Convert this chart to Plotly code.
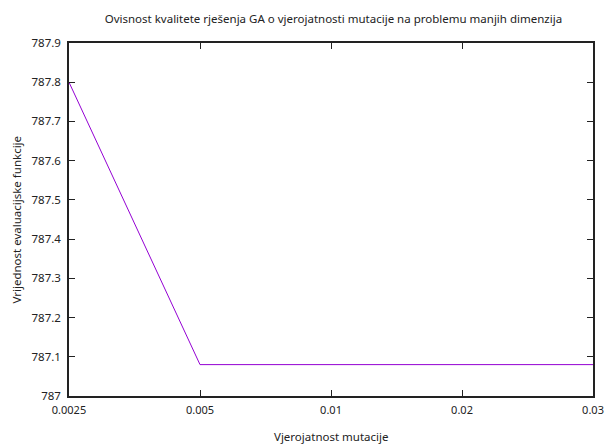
import plotly.graph_objects as go

# Mutation probabilities tested (shown as evenly spaced categories)
mutation_labels = ["0.0025", "0.005", "0.01", "0.02", "0.03"]
# Best evaluation-function value reached for each probability
fitness_values = [787.8, 787.08, 787.08, 787.08, 787.08]

y_ticks = [787.0, 787.1, 787.2, 787.3, 787.4, 787.5, 787.6, 787.7, 787.8, 787.9]
y_tick_text = ["787", "787.1", "787.2", "787.3", "787.4", "787.5", "787.6", "787.7", "787.8", "787.9"]

positions = list(range(len(mutation_labels)))

fig = go.Figure()
fig.add_trace(go.Scatter(
    x=positions,
    y=fitness_values,
    mode="lines",
    line=dict(color="#9400D3", width=1),
    showlegend=False,
))

font_family = "Noto Sans, Open Sans, sans-serif"
text_size = 11.5

fig.update_layout(
    width=604,
    height=446,
    margin=dict(l=69, r=11, t=43, b=50),
    paper_bgcolor="white",
    plot_bgcolor="white",
    font=dict(family=font_family, size=text_size, color="#222222"),
    title=dict(
        text="Ovisnost kvalitete rješenja GA o vjerojatnosti mutacije na problemu manjih dimenzija",
        x=0.552, xanchor="center", y=0.957, yanchor="middle",
        font=dict(size=text_size, color="#222222"),
    ),
    xaxis=dict(
        range=[0, len(mutation_labels) - 1],
        tickmode="array",
        tickvals=positions,
        ticktext=mutation_labels,
        showgrid=False,
        zeroline=False,
        showline=True,
        linecolor="#222222",
        linewidth=1.5,
        mirror="allticks",
        ticks="inside",
        ticklen=6,
        tickcolor="#222222",
        tickfont=dict(size=11),
        ticklabelstandoff=3,
        automargin=False,
    ),
    yaxis=dict(
        range=[787.0, 787.9],
        tickmode="array",
        tickvals=y_ticks,
        ticktext=y_tick_text,
        showgrid=False,
        zeroline=False,
        showline=True,
        linecolor="#222222",
        linewidth=1.5,
        mirror="allticks",
        ticks="inside",
        ticklen=6,
        tickcolor="#222222",
        tickfont=dict(size=text_size),
        ticklabelstandoff=4,
        automargin=False,
    ),
    annotations=[
        dict(
            text="Vjerojatnost mutacije",
            xref="paper", yref="paper",
            x=0.5, y=-0.115, xanchor="center", yanchor="middle",
            showarrow=False, font=dict(size=text_size, color="#222222"),
        ),
        dict(
            text="Vrijednost evaluacijske funkcije",
            xref="paper", yref="paper",
            x=-0.101, y=0.5, xanchor="center", yanchor="middle",
            textangle=-90,
            showarrow=False, font=dict(size=text_size, color="#222222"),
        ),
    ],
)

fig.write_html("out.html")
